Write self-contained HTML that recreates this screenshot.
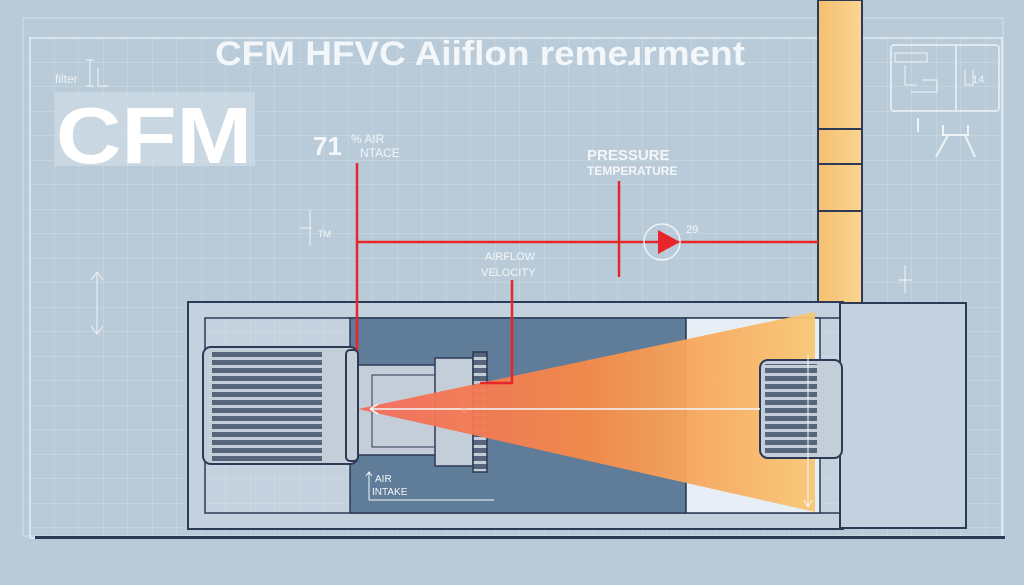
<!DOCTYPE html>
<html><head><meta charset="utf-8"><style>
html,body{margin:0;padding:0;background:#b9cbd8;}
svg{display:block;font-family:"Liberation Sans",sans-serif;}
</style></head><body>
<svg width="1024" height="585" viewBox="0 0 1024 585" xmlns="http://www.w3.org/2000/svg">
<defs>
<pattern id="g" width="24.5" height="24.5" patternUnits="userSpaceOnUse" x="30" y="38">
<path d="M24.5 0V24.5H0" fill="none" stroke="#d6e2ea" stroke-width="1" opacity="0.8"/>
</pattern>
<linearGradient id="cone" x1="0" x2="1" y1="0" y2="0">
<stop offset="0" stop-color="#f46a5c"/>
<stop offset="0.5" stop-color="#f68a48"/>
<stop offset="1" stop-color="#f9c774"/>
</linearGradient>
<linearGradient id="duct" x1="0" x2="1"><stop offset="0" stop-color="#f4c070"/><stop offset="1" stop-color="#fad592"/></linearGradient>
<pattern id="fins" width="10" height="8" patternUnits="userSpaceOnUse"><rect width="10" height="8" fill="#c3ced8"/><rect width="10" height="5" fill="#56657c"/></pattern>
</defs>
<rect width="1024" height="585" fill="#b9cbd8"/>
<rect x="30" y="38" width="972" height="500" fill="url(#g)"/>
<rect x="23" y="18" width="980" height="518" fill="none" stroke="#d6e2ea" stroke-width="1"/>
<rect x="30" y="38" width="972" height="500" fill="none" stroke="#e4ecf2" stroke-width="1.5"/>
<rect x="55" y="92" width="200" height="74" fill="#cfdce6" opacity="0.7"/>
<text x="56" y="163" font-size="80" font-weight="bold" fill="#ffffff" textLength="196" lengthAdjust="spacingAndGlyphs">CFM</text>
<text x="55" y="83" font-size="12" fill="#eef3f7">filter</text>
<path d="M90 60v26M86 60h8M86 86h8M98 68v18h10" stroke="#eef3f7" fill="none"/>
<text x="215" y="65" font-size="34" font-weight="bold" fill="#f4f7fa" textLength="530" lengthAdjust="spacingAndGlyphs">CFM HFVC Aiiflon remeɹrment</text>
<text x="313" y="155" font-size="26" font-weight="bold" fill="#f4f7fa">71</text>
<text x="351" y="143" font-size="12" fill="#f4f7fa">% AIR</text>
<text x="360" y="157" font-size="12" fill="#f4f7fa">NTACE</text>
<text x="587" y="160" font-size="15" font-weight="bold" fill="#f4f7fa">PRESSURE</text>
<text x="587" y="175" font-size="12" font-weight="bold" fill="#f4f7fa">TEMPERATURE</text>
<text x="485" y="260" font-size="11" fill="#f4f7fa">AIRFLOW</text>
<text x="481" y="276" font-size="11" fill="#f4f7fa">VELOCITY</text>
<text x="686" y="233" font-size="11" fill="#f4f7fa">29</text>
<text x="318" y="237" font-size="9" fill="#f4f7fa">TM</text>
<path d="M310 210v36M300 228h12" stroke="#eef3f7" fill="none"/>
<path d="M97 272v62M91 280l6-8 6 8M91 326l6 8 6-8" stroke="#eef3f7" fill="none"/>
<path d="M905 265v28M898 280h14" stroke="#eef3f7" fill="none"/>
<rect x="891" y="45" width="108" height="66" rx="3" fill="none" stroke="#eef3f7" stroke-width="1.5"/>
<path d="M956 45v66" stroke="#eef3f7" stroke-width="1.5"/>
<rect x="895" y="53" width="32" height="9" fill="none" stroke="#eef3f7"/>
<path d="M905 65v20h12M922 80h15v12h-26" stroke="#eef3f7" fill="none"/>
<text x="972" y="83" font-size="11" fill="#eef3f7">14</text>
<path d="M965 70v15h8v-15" stroke="#eef3f7" fill="none"/>
<path d="M943 125v10h25v-10M948 135l-12 22M965 135l10 22M918 118v14" stroke="#eef3f7" stroke-width="2" fill="none"/>
<rect x="818" y="0" width="44" height="362" fill="url(#duct)" stroke="#2c3a55" stroke-width="2"/>
<path d="M818 129h44M818 164h44M818 211h44" stroke="#2c3a55" stroke-width="2"/>
<rect x="188" y="302" width="655" height="227" fill="#c3d2de" stroke="#2c3a55" stroke-width="2"/>
<rect x="205" y="318" width="638" height="195" fill="url(#g)" stroke="#2c3a55" stroke-width="1.5"/>
<rect x="350" y="318" width="336" height="195" fill="#5f7c98" stroke="#2c3a55" stroke-width="1.5"/>
<rect x="686" y="318" width="134" height="195" fill="#e8eef6" stroke="#2c3a55" stroke-width="1.5"/>
<rect x="840" y="303" width="126" height="225" fill="#c3d2de" stroke="#2c3a55" stroke-width="2"/>
<rect x="358" y="365" width="120" height="90" fill="#c3ced8" stroke="#2c3a55" stroke-width="1.5"/>
<rect x="372" y="375" width="100" height="72" fill="none" stroke="#2c3a55" stroke-width="1"/>
<rect x="435" y="358" width="38" height="108" fill="#c3ced8" stroke="#2c3a55" stroke-width="1.5"/>
<rect x="473" y="352" width="14" height="120" fill="url(#fins)" stroke="#2c3a55" stroke-width="1.5"/>
<polygon points="358,409 815,312 815,512" fill="url(#cone)" opacity="0.95"/>
<rect x="203" y="347" width="155" height="117" rx="8" fill="#c3ced8" stroke="#2c3a55" stroke-width="2"/>
<rect x="212" y="350" width="110" height="111" fill="url(#fins)"/>
<rect x="346" y="350" width="12" height="111" rx="4" fill="#c3ced8" stroke="#2c3a55" stroke-width="2"/>
<rect x="760" y="360" width="82" height="98" rx="8" fill="#c3ced8" stroke="#2c3a55" stroke-width="2"/>
<rect x="765" y="364" width="52" height="90" fill="url(#fins)"/>
<path d="M370 409H760M370 409l8-5M370 409l8 5" stroke="#f4f7fa" stroke-width="1.5" fill="none"/>
<text x="462" y="413" font-size="8" fill="#f4a080">0</text>
<path d="M808 355v152M804 500l4 7 4-7" stroke="#f4f7fa" fill="none"/>
<text x="375" y="482" font-size="10" fill="#f4f7fa">AIR</text>
<text x="372" y="495" font-size="10" fill="#f4f7fa">INTAKE</text>
<path d="M369 500h125M369 500v-28M366 476l3-4 3 4" stroke="#f4f7fa" fill="none"/>
<g stroke="#e8262a" stroke-width="2.5" fill="none">
<path d="M357 163V350"/>
<path d="M357 242H818"/>
<path d="M619 181V277"/>
<path d="M512 280V383H480"/>
</g>
<circle cx="662" cy="242" r="18" fill="none" stroke="#eef3f7" stroke-width="1.5"/>
<polygon points="658,230 680,242 658,254" fill="#e8262a"/>
<rect x="35" y="536" width="970" height="3" fill="#2c3a55"/>
</svg>
</body></html>
